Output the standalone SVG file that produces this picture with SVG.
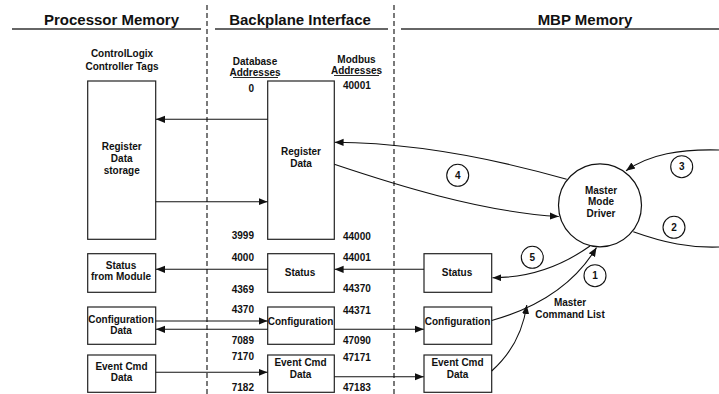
<svg xmlns="http://www.w3.org/2000/svg" width="719" height="394" viewBox="0 0 719 394">
<style>
text{font-family:"Liberation Sans",Arial,sans-serif;font-weight:bold;fill:#111;font-size:10px}
.h{font-size:15px}
.c{text-anchor:middle}
.e{text-anchor:end}
.box{fill:#fff;stroke:#222;stroke-width:1.2}
.ln{fill:none;stroke:#111;stroke-width:1.1}
.hl{stroke:#333;stroke-width:1.6}
.dash{stroke:#222;stroke-width:1.2;stroke-dasharray:5 3}
.lab{fill:#fff;stroke:#111;stroke-width:1.1}
</style>
<defs>
<marker id="ah" viewBox="0 0 10 10" refX="10" refY="5" markerWidth="9" markerHeight="9" markerUnits="userSpaceOnUse" orient="auto">
<path d="M0,1 L10,5 L0,9 Z" fill="#111"/>
</marker>
</defs>
<rect width="719" height="394" fill="#fff"/>

<g id="headers">
<text class="h c" x="111.5" y="25">Processor Memory</text>
<text class="h c" x="300" y="25">Backplane Interface</text>
<text class="h c" x="585" y="25">MBP Memory</text>
<line class="hl" x1="12" y1="29" x2="201" y2="29"/>
<line class="hl" x1="215" y1="29" x2="388" y2="29"/>
<line class="hl" x1="401" y1="29" x2="719" y2="29"/>
<line class="dash" x1="207" y1="5" x2="207" y2="394"/>
<line class="dash" x1="394" y1="5" x2="394" y2="394"/>
</g>

<g id="column-labels">
<text class="c" x="122" y="57">ControlLogix</text>
<text class="c" x="122" y="70">Controller Tags</text>
<text class="c" x="255" y="65">Database</text>
<text class="c" x="255" y="76">Addresses</text>
<line x1="233" y1="77.5" x2="278" y2="77.5" stroke="#111" stroke-width="0.9"/>
<text class="c" x="356.5" y="63">Modbus</text>
<text class="c" x="356.5" y="74">Addresses</text>
<line x1="334" y1="75.5" x2="379" y2="75.5" stroke="#111" stroke-width="0.9"/>
</g>

<g id="addresses">
<text class="e" x="254" y="92">0</text>
<text class="e" x="254" y="239">3999</text>
<text class="e" x="254" y="261">4000</text>
<text class="e" x="254" y="292.5">4369</text>
<text class="e" x="254" y="313">4370</text>
<text class="e" x="254" y="344">7089</text>
<text class="e" x="254" y="360">7170</text>
<text class="e" x="254" y="391">7182</text>
<text x="343" y="88.5">40001</text>
<text x="343" y="239.5">44000</text>
<text x="343" y="260.5">44001</text>
<text x="343" y="291.5">44370</text>
<text x="343" y="313.5">44371</text>
<text x="343" y="344">47090</text>
<text x="343" y="361">47171</text>
<text x="343" y="390.5">47183</text>
</g>

<g id="register-storage">
<rect class="box" x="87.7" y="81" width="68" height="158.3"/>
<text class="c" x="121.7" y="149.5">Register</text>
<text class="c" x="121.7" y="161.5">Data</text>
<text class="c" x="121.7" y="173.5">storage</text>
</g>
<g id="register-data">
<rect class="box" x="267.7" y="81" width="66.6" height="158.3"/>
<text class="c" x="301" y="155">Register</text>
<text class="c" x="301" y="166.5">Data</text>
</g>
<g id="status-from-module">
<rect class="box" x="87.7" y="253.7" width="68" height="38.6"/>
<text class="c" x="121" y="268.5">Status</text>
<text class="c" x="121" y="280">from Module</text>
</g>
<g id="status-backplane">
<rect class="box" x="267.7" y="253.7" width="66.6" height="38.6"/>
<text class="c" x="300" y="275.5">Status</text>
</g>
<g id="status-mbp">
<rect class="box" x="424" y="253.7" width="67.7" height="38.6"/>
<text class="c" x="457" y="276">Status</text>
</g>
<g id="config-data">
<rect class="box" x="87.7" y="307" width="68" height="37.3"/>
<text class="c" x="121" y="322.5">Configuration</text>
<text class="c" x="121" y="333.5">Data</text>
</g>
<g id="config-backplane">
<rect class="box" x="267.7" y="307" width="66.6" height="37.3"/>
<text class="c" x="300.5" y="324.5">Configuration</text>
</g>
<g id="config-mbp">
<rect class="box" x="424" y="307" width="67.7" height="37.3"/>
<text class="c" x="457.5" y="324.5">Configuration</text>
</g>
<g id="event-cmd">
<rect class="box" x="87.7" y="355" width="68" height="37.3"/>
<text class="c" x="121.5" y="370">Event Cmd</text>
<text class="c" x="121.5" y="381">Data</text>
</g>
<g id="event-cmd-backplane">
<rect class="box" x="267.7" y="355" width="66.6" height="37.3"/>
<text class="c" x="300.5" y="366">Event Cmd</text>
<text class="c" x="300.5" y="378">Data</text>
</g>
<g id="event-cmd-mbp">
<rect class="box" x="424" y="355" width="67.7" height="37.3"/>
<text class="c" x="457.5" y="366">Event Cmd</text>
<text class="c" x="457.5" y="378">Data</text>
</g>
<g id="master-mode-driver">
<circle cx="600" cy="205.3" r="41.5" fill="#fff" stroke="#111" stroke-width="1.2"/>
<text class="c" x="601" y="193.5">Master</text>
<text class="c" x="601" y="205">Mode</text>
<text class="c" x="601" y="216.5">Driver</text>
</g>
<g id="master-command-list">
<text class="c" x="570" y="306">Master</text>
<text class="c" x="570" y="317.5">Command List</text>
</g>

<g id="connectors">
<line class="ln" x1="267.7" y1="119.3" x2="156" y2="119.3" marker-end="url(#ah)"/>
<line class="ln" x1="155.7" y1="201.7" x2="267.5" y2="201.7" marker-end="url(#ah)"/>
<line class="ln" x1="267.7" y1="269.3" x2="156" y2="269.3" marker-end="url(#ah)"/>
<line class="ln" x1="424" y1="269.3" x2="334.6" y2="269.3" marker-end="url(#ah)"/>
<line class="ln" x1="155.7" y1="321" x2="267.5" y2="321" marker-end="url(#ah)"/>
<line class="ln" x1="267.7" y1="329.3" x2="156" y2="329.3" marker-end="url(#ah)"/>
<line class="ln" x1="334.3" y1="329.3" x2="423.8" y2="329.3" marker-end="url(#ah)"/>
<line class="ln" x1="155.7" y1="372.3" x2="267.5" y2="372.3" marker-end="url(#ah)"/>
<line class="ln" x1="334.3" y1="376.7" x2="423.8" y2="376.7" marker-end="url(#ah)"/>
<path class="ln" d="M566.7,179.3 C520,166 430,143 334.6,142.3" marker-end="url(#ah)"/>
<path class="ln" d="M334.3,164.3 C390,183 480,212 558.8,216.5" marker-end="url(#ah)"/>
<path class="ln" d="M719,150 C680,149 650,154 626,170.7" marker-end="url(#ah)"/>
<path class="ln" d="M633.3,231.7 C665,243 690,248 719,247"/>
<path class="ln" d="M590,246 Q545,278 492.5,277.7" marker-end="url(#ah)"/>
<path class="ln" d="M491.7,320.5 Q565,300 596.5,247.5" marker-end="url(#ah)"/>
<path class="ln" d="M491.7,371 Q521,345 526.8,305" marker-end="url(#ah)"/>
</g>

<g id="step-labels">
<circle class="lab" cx="595" cy="275.7" r="11"/><text class="c" x="595" y="279.3">1</text>
<circle class="lab" cx="674" cy="227.3" r="11"/><text class="c" x="674" y="230.9">2</text>
<circle class="lab" cx="681.7" cy="166.7" r="11"/><text class="c" x="681.7" y="170.3">3</text>
<circle class="lab" cx="457.7" cy="175.3" r="11"/><text class="c" x="457.7" y="178.9">4</text>
<circle class="lab" cx="532.3" cy="257.3" r="11"/><text class="c" x="532.3" y="260.9">5</text>
</g>
</svg>
